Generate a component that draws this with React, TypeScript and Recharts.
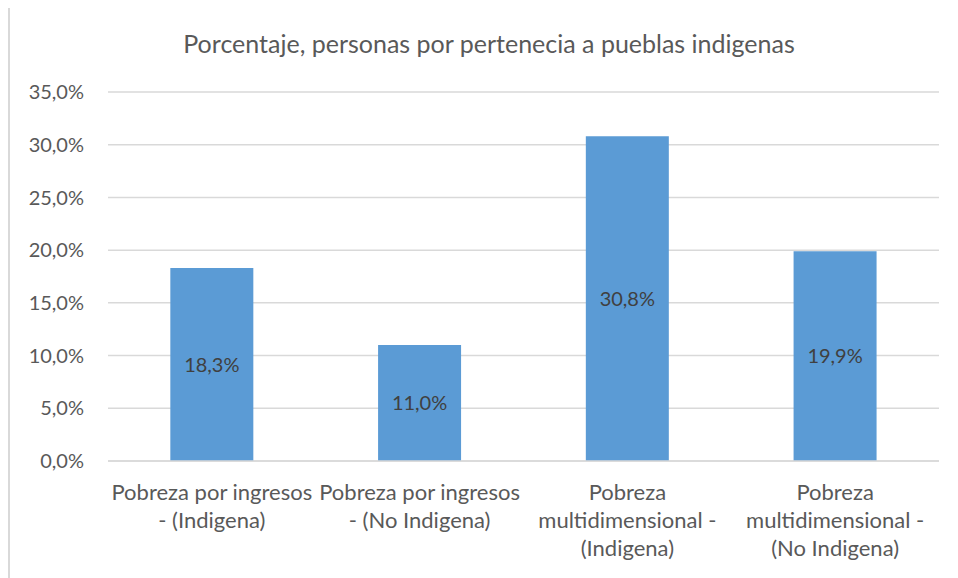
import React from "react";
import { BarChart, Bar, XAxis, YAxis, CartesianGrid, LabelList } from "recharts";

const title = "Porcentaje, personas por pertenecia a pueblas indigenas";
const categories = [
  "Pobreza por ingresos\n- (Indigena)",
  "Pobreza por ingresos\n- (No Indigena)",
  "Pobreza\nmultidimensional -\n(Indigena)",
  "Pobreza\nmultidimensional -\n(No Indigena)",
];
const values = [18.3, 11.0, 30.8, 19.9];
const yTicks = [0, 5, 10, 15, 20, 25, 30, 35];

const data = categories.map((c, i) => ({ name: c, value: values[i] }));

const FONT = "Lato, 'Open Sans', sans-serif";
const fmt = (v: number) => v.toFixed(1).replace(".", ",") + "%";

const XTick = (props: any) => {
  const { x, y, payload } = props;
  const lines = String(payload.value).split("\n");
  return (
    <text x={x} y={y} textAnchor="middle" fill="#595959" fontSize={22} fontFamily={FONT}>
      {lines.map((l, i) => (
        <tspan key={i} x={x} dy={i === 0 ? 31 : 28}>
          {l}
        </tspan>
      ))}
    </text>
  );
};

export default function App() {
  return (
    <div
      style={{
        position: "relative",
        marginTop: -3,
        width: 950,
        height: 573,
        borderLeft: "2px solid #d9d9d9",
        borderTop: "2px solid #d9d9d9",
        background: "#fff",
      }}
    >
      <div
        style={{
          position: "absolute",
          left: 0,
          width: 958,
          top: 21,
          textAlign: "center",
          fontFamily: FONT,
          fontSize: 25,
          color: "#595959",
          lineHeight: "30px",
        }}
      >
        {title}
      </div>
      <BarChart
        width={948}
        height={571}
        data={data}
        margin={{ top: 85, right: 19, bottom: 0, left: 0 }}
        barCategoryGap="30%"
      >
        <CartesianGrid vertical={false} stroke="#d9d9d9" strokeWidth={1.5} />
        <XAxis
          dataKey="name"
          axisLine={{ stroke: "#d9d9d9", strokeWidth: 1.5 }}
          tickLine={false}
          interval={0}
          height={117}
          tick={<XTick />}
        />
        <YAxis
          domain={[0, 35]}
          ticks={yTicks}
          width={98}
          axisLine={false}
          tickLine={false}
          tickMargin={18}
          tickFormatter={fmt}
          tick={{ fill: "#595959", fontSize: 20, fontFamily: FONT }}
          interval={0}
        />
        <Bar dataKey="value" fill="#5B9BD5" isAnimationActive={false}>
          <LabelList
            dataKey="value"
            position="center"
            formatter={(v: any) => fmt(Number(v))}
            fill="#404040"
            fontSize={20}
            fontFamily={FONT}
          />
        </Bar>
      </BarChart>
    </div>
  );
}
